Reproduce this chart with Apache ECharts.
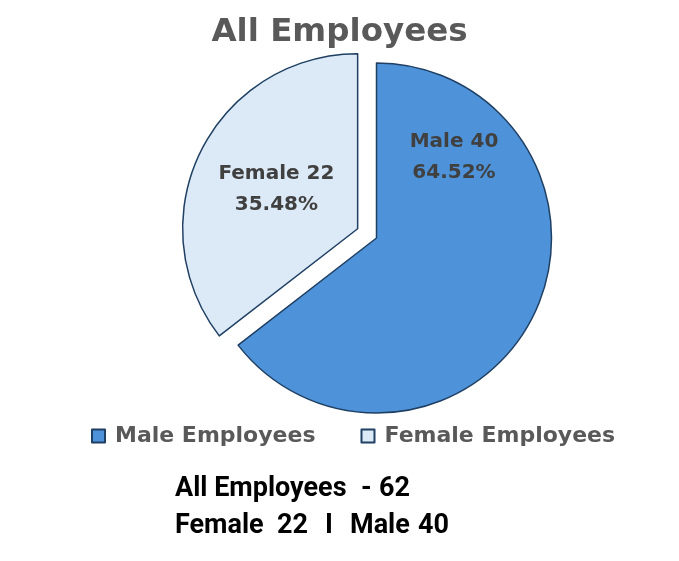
<!DOCTYPE html>
<html>
<head>
<meta charset="utf-8">
<script src="https://cdn.jsdelivr.net/npm/echarts@6/dist/echarts.min.js"></script>
<style>html,body{margin:0;padding:0;background:#fff}#c{width:679px;height:561px}</style>
</head>
<body>
<div id="c"></div>
<script>
const categories = ['Male Employees', 'Female Employees'];
const shortNames = ['Male', 'Female'];
const values = [40, 22];
const percents = ['64.52%', '35.48%'];
const total = 62;

const colors = ['#4e93d9', '#dce9f6'];
const labelPos = [[454, 157], [270, 227]];
const F = '"DejaVu Sans"';

const summaryStyle = { fontFamily: 'Roboto', fontWeight: 'bold', fontSize: 27, fill: '#000', verticalAlign: 'middle' };
function st(text, x, y) {
  return { type: 'text', x: x, y: y, style: Object.assign({ text: String(text) }, summaryStyle) };
}

const chart = echarts.init(document.getElementById('c'));
chart.setOption({
  animation: false,
  title: {
    text: 'All Employees',
    left: 'center',
    top: 11,
    textStyle: { fontFamily: F, fontWeight: 'bold', fontSize: 32.5, color: '#595959' }
  },
  legend: {
    data: categories,
    left: 86,
    top: 420,
    icon: 'rect',
    itemWidth: 13,
    itemHeight: 13,
    itemGap: 45,
    textStyle: { fontFamily: F, fontWeight: 'bold', fontSize: 22, color: '#595959', padding: [0, 0, 0, 5] },
    selectedMode: false
  },
  series: [{
    type: 'pie',
    center: [376.5, 238],
    radius: 175,
    startAngle: 90,
    clockwise: true,
    selectedMode: 'multiple',
    selectedOffset: 21,
    itemStyle: { borderColor: '#1f3f63', borderWidth: 1.5 },
    emphasis: { disabled: true },
    label: {
      show: true,
      position: 'inside',
      fontFamily: F,
      fontWeight: 'bold',
      fontSize: 20,
      lineHeight: 31,
      color: '#404040',
      formatter: p => shortNames[p.dataIndex] + ' ' + values[p.dataIndex] + '\n' + percents[p.dataIndex]
    },
    labelLayout: p => ({ x: labelPos[p.dataIndex][0], y: labelPos[p.dataIndex][1], align: 'center', verticalAlign: 'middle' }),
    data: categories.map((c, i) => ({
      name: c,
      value: values[i],
      selected: i === 1,
      itemStyle: { color: colors[i] }
    }))
  }],
  graphic: [
    st('All Employees', 175, 489),
    st('-', 361, 489),
    st(total, 379, 489),
    st(shortNames[1], 175, 526),
    st(values[1], 277, 526),
    st('I', 325, 526),
    st(shortNames[0], 350, 526),
    st(values[0], 418, 526)
  ]
});
</script>
</body>
</html>
